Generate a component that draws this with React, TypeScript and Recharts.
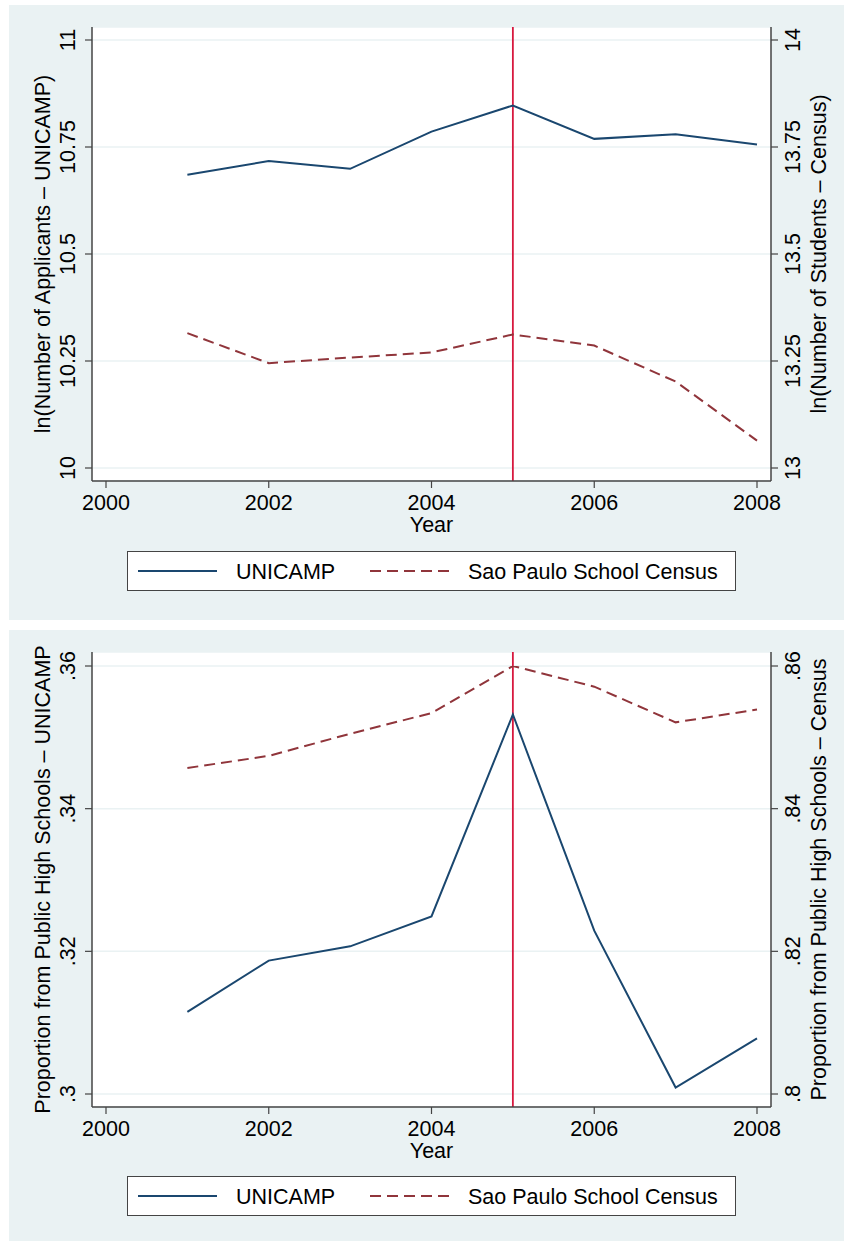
import React from 'react';
import { LineChart, Line, XAxis, YAxis, CartesianGrid, ReferenceLine } from 'recharts';

const years = [2001, 2002, 2003, 2004, 2005, 2006, 2007, 2008];

// top panel: ln(number of applicants / students)
const applicantsUnicamp = [10.685, 10.717, 10.699, 10.786, 10.847, 10.769, 10.780, 10.756];
const studentsCensus = [13.315, 13.245, 13.258, 13.270, 13.312, 13.286, 13.202, 13.064];

// bottom panel: share coming from public high schools
const publicShareUnicamp = [0.3115, 0.3187, 0.3207, 0.3249, 0.3532, 0.3229, 0.3009, 0.3078];
const publicShareCensus = [0.8457, 0.8474, 0.8505, 0.8534, 0.8600, 0.8571, 0.8521, 0.8539];

const yearTicks = [2000, 2002, 2004, 2006, 2008];
const topLeftTicks = [10, 10.25, 10.5, 10.75, 11];
const topRightTicks = [13, 13.25, 13.5, 13.75, 14];
const bottomLeftTicks = [0.3, 0.32, 0.34, 0.36];
const bottomRightTicks = [0.8, 0.82, 0.84, 0.86];

const policyYear = 2005;

const NAVY = '#1a476f';
const MAROON = '#90353b';
const RED = '#d7193f';
const BG = '#eaf2f3';
const AXIS = '#444';
const FONT = '"Liberation Sans", Arial, Helvetica, sans-serif';
const FS = 21.5;

// stata style: drop the leading zero (0.32 -> .32)
const fmt = (v: number) => String(v).replace(/^0\./, '.');

const LeftTick = ({ x, y, payload }: any) => (
    <text transform={`translate(${x - 10},${y}) rotate(-90)`} textAnchor="middle" fontSize={FS} fontFamily={FONT} fill="#000">
        {fmt(payload.value)}
    </text>
);

const RightTick = ({ x, y, payload }: any) => (
    <text transform={`translate(${x + 22},${y}) rotate(-90)`} textAnchor="middle" fontSize={FS} fontFamily={FONT} fill="#000">
        {fmt(payload.value)}
    </text>
);

const YearTick = ({ x, y, payload }: any) => (
    <text x={x} y={y + 22} textAnchor="middle" fontSize={FS} fontFamily={FONT} fill="#000">
        {payload.value}
    </text>
);

const sideTitle = (text: string, dx: number) => ({ viewBox }: any) => {
    const cx = viewBox.x + dx;
    const cy = viewBox.y + viewBox.height / 2;
    return (
        <text transform={`translate(${cx},${cy}) rotate(-90)`} textAnchor="middle" fontSize={FS} fontFamily={FONT} fill="#000">
            {text}
        </text>
    );
};

const yearTitle = ({ viewBox }: any) => (
    <text x={viewBox.x + viewBox.width / 2} y={viewBox.y + 51} textAnchor="middle" fontSize={FS} fontFamily={FONT} fill="#000">
        Year
    </text>
);

const legendItems = [
    { label: 'UNICAMP', color: NAVY, dash: undefined as string | undefined },
    { label: 'Sao Paulo School Census', color: MAROON, dash: '11 6' },
];

const ChartLegend = () => (
    <div style={{ position: 'absolute', left: 118, top: 546, width: 609, height: 40, background: '#fff', border: `1px solid ${AXIS}`, boxSizing: 'border-box' }}>
        <svg width={607} height={38}>
            {legendItems.map((it, i) => {
                const x0 = i === 0 ? 10 : 242;
                return (
                    <g key={it.label}>
                        <line x1={x0} x2={x0 + 79} y1={19} y2={19} stroke={it.color} strokeWidth={2} strokeDasharray={it.dash} />
                        <text x={x0 + 98} y={26.5} fontSize={FS} fontFamily={FONT} fill="#000">{it.label}</text>
                    </g>
                );
            })}
        </svg>
    </div>
);

type PanelProps = {
    top: number;
    height: number;
    plotHeight: number;
    unicamp: number[];
    census: number[];
    leftTicks: number[];
    rightTicks: number[];
    leftTitle: string;
    rightTitle: string;
    padTop: number;
    padBottom: number;
};

const Panel: React.FC<PanelProps> = (p) => {
    const data = years.map((year, i) => ({ year, unicamp: p.unicamp[i], census: p.census[i] }));
    const xAxisHeight = p.height - 22 - p.plotHeight;
    const lDom = [p.leftTicks[0], p.leftTicks[p.leftTicks.length - 1]];
    const rDom = [p.rightTicks[0], p.rightTicks[p.rightTicks.length - 1]];

    return (
        <div style={{ position: 'absolute', left: 9, top: p.top, width: 835, height: p.height, background: BG }}>
            <LineChart width={835} height={p.height} data={data} margin={{ top: 22, right: 0, bottom: 0, left: 0 }}>
                <CartesianGrid yAxisId="left" vertical={false} fill="#fff" stroke={BG} strokeWidth={1.5} />
                <XAxis
                    dataKey="year" type="number" domain={[2000, 2008]} ticks={yearTicks}
                    padding={{ left: 14, right: 14 }} height={xAxisHeight}
                    tickSize={7} tickMargin={0} tick={<YearTick />}
                    axisLine={{ stroke: AXIS, strokeWidth: 1.5 }} tickLine={{ stroke: AXIS, strokeWidth: 1.2 }}
                    label={yearTitle}
                />
                <YAxis
                    yAxisId="left" orientation="left" width={83} domain={lDom} ticks={p.leftTicks}
                    padding={{ top: p.padTop, bottom: p.padBottom }} allowDataOverflow
                    tickSize={7} tickMargin={0} tick={<LeftTick />}
                    axisLine={{ stroke: AXIS, strokeWidth: 1.5 }} tickLine={{ stroke: AXIS, strokeWidth: 1.2 }}
                    label={sideTitle(p.leftTitle, 41)}
                />
                <YAxis
                    yAxisId="right" orientation="right" width={73} domain={rDom} ticks={p.rightTicks}
                    padding={{ top: p.padTop, bottom: p.padBottom }} allowDataOverflow
                    tickSize={7} tickMargin={0} tick={<RightTick />}
                    axisLine={{ stroke: AXIS, strokeWidth: 1.5 }} tickLine={{ stroke: AXIS, strokeWidth: 1.2 }}
                    label={sideTitle(p.rightTitle, 55)}
                />
                <ReferenceLine yAxisId="left" x={policyYear} stroke={RED} strokeWidth={1.8} />
                <Line yAxisId="left" type="linear" dataKey="unicamp" stroke={NAVY} strokeWidth={2} dot={false} isAnimationActive={false} />
                <Line yAxisId="right" type="linear" dataKey="census" stroke={MAROON} strokeWidth={2} strokeDasharray="11 6" dot={false} isAnimationActive={false} />
            </LineChart>
            <ChartLegend />
        </div>
    );
};

export default function App() {
    return (
        <div style={{ position: 'absolute', left: 0, top: 0, width: 844, height: 1241, background: '#fff', overflow: 'hidden' }}>
            <Panel
                top={5} height={615} plotHeight={454}
                unicamp={applicantsUnicamp} census={studentsCensus}
                leftTicks={topLeftTicks} rightTicks={topRightTicks}
                leftTitle="ln(Number of Applicants – UNICAMP)"
                rightTitle="ln(Number of Students – Census)"
                padTop={13} padBottom={13}
            />
            <Panel
                top={630} height={611} plotHeight={455}
                unicamp={publicShareUnicamp} census={publicShareCensus}
                leftTicks={bottomLeftTicks} rightTicks={bottomRightTicks}
                leftTitle="Proportion from Public High Schools – UNICAMP"
                rightTitle="Proportion from Public High Schools – Census"
                padTop={14} padBottom={13}
            />
        </div>
    );
}
